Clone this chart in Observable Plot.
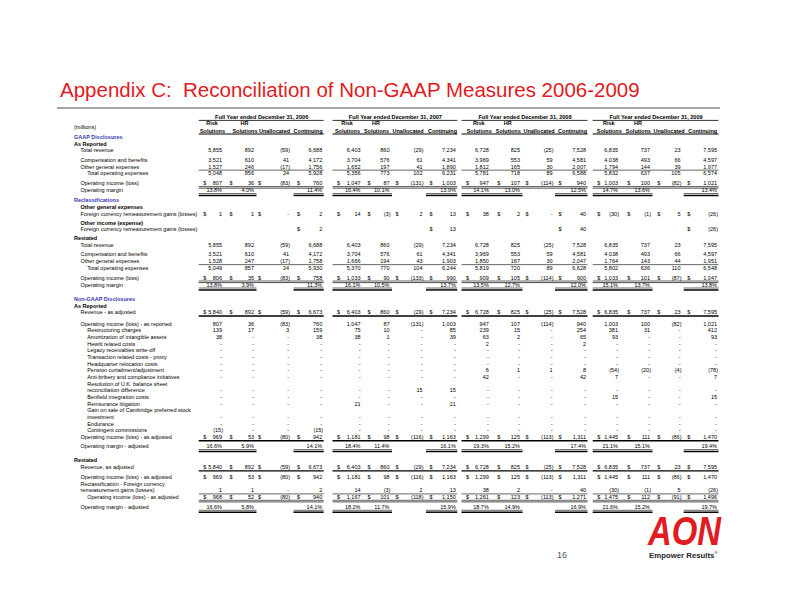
<!DOCTYPE html>
<html><head><meta charset="utf-8">
<script src="https://cdn.jsdelivr.net/npm/d3@7"></script>
<script src="https://cdn.jsdelivr.net/npm/@observablehq/plot@0.6"></script>
<style>
body{margin:0;background:#fff;}
#page{position:relative;width:792px;height:612px;overflow:hidden;font-family:"Liberation Sans",Arial,Helvetica,sans-serif;background:#fff;}
#chart{position:absolute;left:0;top:0;}
#title{position:absolute;left:60px;top:79.5px;font-size:20.5px;line-height:20.5px;color:#E11B22;white-space:nowrap;margin:0;font-weight:normal;}
#rule{position:absolute;left:57px;top:107px;width:663px;height:2px;background:#A6A6A6;}
#pagenum{position:absolute;left:557px;top:550px;font-size:9px;line-height:10px;color:#595959;}
#tag{position:absolute;left:649px;top:551px;font-size:7.8px;line-height:9px;color:#262626;font-weight:bold;white-space:nowrap;}
#tag sup{font-size:4px;vertical-align:top;line-height:4px;}
#logo{position:absolute;left:646px;top:512px;}
</style></head>
<body>
<div id="page">
  <div id="chart"></div>
  <h1 id="title">Appendix C:&nbsp; Reconciliation of Non-GAAP Measures 2006-2009</h1>
  <div id="rule"></div>
  <svg id="logo" width="78" height="36"><text x="2" y="33" font-family="Liberation Sans, Arial, sans-serif" font-weight="bold" font-style="italic" font-size="41" fill="#E11B22" textLength="73" lengthAdjust="spacingAndGlyphs">AON</text></svg>
  <div id="pagenum">16</div>
  <div id="tag">Empower Results<sup>®</sup></div>
</div>
<script>
// ---------------- DATA ----------------
const years = ["2006", "2007", "2008", "2009"];
const columnTop = ["Risk", "HR", "", ""];
const columnBottom = ["Solutions", "Solutions", "Unallocated", "Continuing"];

const rowLabels = [
  "(millions)",
  "GAAP Disclosures",
  "As Reported",
  "Total revenue",
  "Compensation and benefits",
  "Other general expenses",
  "Total operating expenses",
  "Operating income (loss)",
  "Operating margin",
  "Reclassifications",
  "Other general expenses",
  "Foreign currency remeasurement gains (losses)",
  "Other income (expense)",
  "Foreign currency remeasurement gains (losses)",
  "Restated",
  "Total revenue",
  "Compensation and benefits",
  "Other general expenses",
  "Total operating expenses",
  "Operating income (loss)",
  "Operating margin",
  "Non-GAAP Disclosures",
  "As Reported",
  "Revenue - as adjusted",
  "Operating income (loss) - as reported",
  "Restructuring charges",
  "Amortization of intangible assets",
  "Hewitt related costs",
  "Legacy receivables write-off",
  "Transaction related costs - proxy",
  "Headquarter relocation costs",
  "Pension curtailment/adjustment",
  "Anti-bribery and compliance initiatives",
  "Resolution of U.K. balance sheet",
  "reconciliation difference",
  "Benfield integration costs",
  "Reinsurance litigation",
  "Gain on sale of Cambridge preferred stock",
  "investment",
  "Endurance",
  "Contingent commissions",
  "Operating income (loss) - as adjusted",
  "Operating margin - adjusted",
  "Restated",
  "Revenue, as adjusted",
  "Operating income (loss) - as adjusted",
  "Reclassification - Foreign currency",
  "remeasurement gains (losses)",
  "Operating income (loss) - as adjusted",
  "Operating margin - adjusted"
];

// values per year: [Risk Solutions, HR Solutions, Unallocated, Continuing]; 0 shown as "-", null blank
const fy2006 = [
  [5855, 892, -59, 6688], [3521, 610, 41, 4172], [1527, 246, -17, 1756], [5048, 856, 24, 5928],
  [807, 36, -83, 760], [13.8, 4.0, null, 11.4],
  [1, 1, 0, 2], [null, null, null, 2],
  [5855, 892, -59, 6688], [3521, 610, 41, 4172], [1528, 247, -17, 1758], [5049, 857, 24, 5930],
  [806, 35, -83, 758], [13.8, 3.9, null, 11.3],
  [5840, 892, -59, 6673], [807, 36, -83, 760], [139, 17, 3, 159], [38, 0, 0, 38],
  [0, 0, 0, 0], [0, 0, 0, 0], [0, 0, 0, 0], [0, 0, 0, 0], [0, 0, 0, 0], [0, 0, 0, 0],
  [0, 0, 0, 0], [0, 0, 0, 0], [0, 0, 0, 0], [0, 0, 0, 0], [0, 0, 0, 0], [-15, 0, 0, -15],
  [969, 53, -80, 942], [16.6, 5.9, null, 14.1],
  [5840, 892, -59, 6673], [969, 53, -80, 942], [1, 1, 0, 2], [968, 52, -80, 940], [16.6, 5.8, null, 14.1]
];
const fy2007 = [
  [6403, 860, -29, 7234], [3704, 576, 61, 4341], [1652, 197, 41, 1890], [5356, 773, 102, 6231],
  [1047, 87, -131, 1003], [16.4, 10.1, null, 13.9],
  [14, -3, 2, 13], [null, null, null, 13],
  [6403, 860, -29, 7234], [3704, 576, 61, 4341], [1666, 194, 43, 1903], [5370, 770, 104, 6244],
  [1033, 90, -133, 990], [16.1, 10.5, null, 13.7],
  [6403, 860, -29, 7234], [1047, 87, -131, 1003], [75, 10, 0, 85], [38, 1, 0, 39],
  [0, 0, 0, 0], [0, 0, 0, 0], [0, 0, 0, 0], [0, 0, 0, 0], [0, 0, 0, 0], [0, 0, 0, 0],
  [0, 0, 15, 15], [0, 0, 0, 0], [21, 0, 0, 21], [0, 0, 0, 0], [0, 0, 0, 0], [0, 0, 0, 0],
  [1181, 98, -116, 1163], [18.4, 11.4, null, 16.1],
  [6403, 860, -29, 7234], [1181, 98, -116, 1163], [14, -3, 2, 13], [1167, 101, -118, 1150], [18.2, 11.7, null, 15.9]
];
const fy2008 = [
  [6728, 825, -25, 7528], [3969, 553, 59, 4581], [1812, 165, 30, 2007], [5781, 718, 89, 6588],
  [947, 107, -114, 940], [14.1, 13.0, null, 12.5],
  [38, 2, 0, 40], [null, null, null, 40],
  [6728, 825, -25, 7528], [3969, 553, 59, 4581], [1850, 167, 30, 2047], [5819, 720, 89, 6628],
  [909, 105, -114, 900], [13.5, 12.7, null, 12.0],
  [6728, 825, -25, 7528], [947, 107, -114, 940], [239, 15, 0, 254], [63, 2, 0, 65],
  [2, 0, 0, 2], [0, 0, 0, 0], [0, 0, 0, 0], [0, 0, 0, 0], [6, 1, 1, 8], [42, 0, 0, 42],
  [0, 0, 0, 0], [0, 0, 0, 0], [0, 0, 0, 0], [0, 0, 0, 0], [0, 0, 0, 0], [0, 0, 0, 0],
  [1299, 125, -113, 1311], [19.3, 15.2, null, 17.4],
  [6728, 825, -25, 7528], [1299, 125, -113, 1311], [38, 2, 0, 40], [1261, 123, -113, 1271], [18.7, 14.9, null, 16.9]
];
const fy2009 = [
  [6835, 737, 23, 7595], [4038, 493, 66, 4597], [1794, 144, 39, 1977], [5832, 637, 105, 6574],
  [1003, 100, -82, 1021], [14.7, 13.6, null, 13.4],
  [-30, -1, 5, -26], [null, null, null, -26],
  [6835, 737, 23, 7595], [4038, 493, 66, 4597], [1764, 143, 44, 1951], [5802, 636, 110, 6548],
  [1033, 101, -87, 1047], [15.1, 13.7, null, 13.8],
  [6835, 737, 23, 7595], [1003, 100, -82, 1021], [381, 31, 0, 412], [93, 0, 0, 93],
  [0, 0, 0, 0], [0, 0, 0, 0], [0, 0, 0, 0], [0, 0, 0, 0], [-54, -20, -4, -78], [7, 0, 0, 7],
  [0, 0, 0, 0], [15, 0, 0, 15], [0, 0, 0, 0], [0, 0, 0, 0], [0, 0, 0, 0], [0, 0, 0, 0],
  [1445, 111, -86, 1470], [21.1, 15.1, null, 19.4],
  [6835, 737, 23, 7595], [1445, 111, -86, 1470], [-30, -1, 5, -26], [1475, 112, -91, 1496], [21.6, 15.2, null, 19.7]
];
const yearValues = [fy2006, fy2007, fy2008, fy2009];

// ---------------- LAYOUT (positions / styles) ----------------
// [step before row (row units), indent level, kind, value row index, dollar, rule, percent]
const rowSpec = [
  [0, 0, "plain"],
  [0, 0, "section"],
  [1.0, 0, "subhead"],
  [1.0, 1, "plain", 0],
  [1.45, 1, "plain", 1],
  [1.0, 1, "plain", 2, null, "single"],
  [1.0, 2, "plain", 3],
  [1.5, 1, "plain", 4, "all", "double"],
  [1.05, 1, "plain", 5, null, "margin", true],
  [1.45, 0, "section"],
  [1.05, 1, "subhead"],
  [1.05, 1, "plain", 6, "all"],
  [1.3, 1, "subhead"],
  [1.0, 1, "plain", 7, "cont"],
  [1.35, 0, "subhead"],
  [1.0, 1, "plain", 8],
  [1.42, 1, "plain", 9],
  [1.0, 1, "plain", 10, null, "single"],
  [1.0, 2, "plain", 11],
  [1.5, 1, "plain", 12, "all", "double"],
  [1.05, 1, "plain", 13, null, "margin", true],
  [2.15, 0, "section"],
  [1.0, 0, "subhead"],
  [0.95, 1, "plain", 14, "all", "thick"],
  [1.72, 1, "plain", 15],
  [1, 2, "plain", 16], [1, 2, "plain", 17], [1, 2, "plain", 18], [1, 2, "plain", 19],
  [1, 2, "plain", 20], [1, 2, "plain", 21], [1, 2, "plain", 22], [1, 2, "plain", 23],
  [1, 2, "plain"], [1, 2, "plain", 24], [1, 2, "plain", 25], [1, 2, "plain", 26],
  [1, 2, "plain"], [1, 2, "plain", 27], [1, 2, "plain", 28], [1, 2, "plain", 29],
  [1.0, 1, "plain", 30, "all", "thick"],
  [1.42, 1, "plain", 31, null, "margin", true],
  [2.1, 0, "subhead"],
  [1.0, 1, "plain", 32, "all", "thick"],
  [1.5, 1, "plain", 33, "all"],
  [1.0, 1, "plain"],
  [1.0, 1, "plain", 34, null, "single"],
  [1.0, 2, "plain", 35, "all", "double"],
  [1.5, 1, "plain", 36, null, "margin", true]
];
const colRight = [[221.5, 253.5, 288.5, 321.7], [360, 389, 422, 455.3], [488.3, 519.5, 552, 585.5], [617.5, 649.5, 680, 716.5]];
const colDollar = [[202.7, 229, 257.5, 296.5], [336.5, 367, 395, 429], [465.5, 496.7, 525, 558], [596.7, 626.7, 656.7, 686.7]];
const headRight = [[224.5, 257, 289.6, 322.1], [359.5, 388.5, 423.2, 456.5], [491.2, 520.3, 554.1, 586.6], [621.3, 650.4, 684.2, 716.7]];
const indentX = [73.5, 80, 86.7];
const ROW = 6.667, Y0 = 116.3, FS = 5.5;
const U_MILLIONS = 1.6, U_SOLUTIONS = 2.1, U_FIRST = 3.06;
const BLUE = "#3636B4";

// ---------------- BUILD ----------------
const blockStart = colDollar.map(d => d[0] - 4);
const blockEnd = colRight.map(d => d[3] + 2);

let cum = U_FIRST;
const rows = rowSpec.map((s, i) => {
  const [step, indent, kind, vi, dollar, rule, pct] = s;
  let u;
  if (i === 0) u = U_MILLIONS;
  else if (i === 1) u = U_FIRST;
  else { cum += step; u = cum; }
  return {label: rowLabels[i], u, indent, kind, vi, dollar, rule, pct};
});
const maxU = d3.max(rows, r => r.u) + 1;

const fmtNum = d3.format(",");
function fmt(v, pct) {
  if (v == null) return null;
  if (pct) return v.toFixed(1) + "%";
  if (v === 0) return "-";
  return v < 0 ? "(" + fmtNum(-v) + ")" : fmtNum(v);
}

const cells = [], dollars = [], rules = [];
rows.forEach(r => {
  if (r.vi == null) return;
  years.forEach((yr, b) => {
    const vals = yearValues[b][r.vi];
    vals.forEach((v, c) => {
      const t = fmt(v, r.pct);
      if (t == null) return;
      cells.push({x: colRight[b][c] + (v < 0 && !r.pct ? 1 : 0), u: r.u, text: t});
      if (r.dollar === "all" || (r.dollar === "cont" && c === 3)) dollars.push({x: colDollar[b][c], u: r.u});
    });
    if (r.rule === "margin") {
      for (const [a, z] of [[blockStart[b], colRight[b][1] + 3], [colDollar[b][3] - 3, blockEnd[b]]]) {
        rules.push({x1: a, x2: z, u: r.u, type: "thin"});
        rules.push({x1: a, x2: z, u: r.u, type: "thickLow"});
      }
    } else if (r.rule === "double") {
      rules.push({x1: blockStart[b], x2: blockEnd[b], u: r.u, type: "thin"});
      rules.push({x1: blockStart[b], x2: blockEnd[b], u: r.u, type: "doubleLow"});
    } else if (r.rule) {
      rules.push({x1: blockStart[b], x2: blockEnd[b], u: r.u, type: r.rule});
    }
  });
});

const headerYears = years.map((y, b) => ({x: (blockStart[b] + blockEnd[b]) / 2, text: `Full Year ended December 31, ${y}`, x1: blockStart[b], x2: blockEnd[b]}));
const headerTop = [], headerBottom = [];
years.forEach((y, b) => {
  columnTop.forEach((t, c) => { if (t) headerTop.push({x: headRight[b][c] - 13, text: t}); });
  columnBottom.forEach((t, c) => headerBottom.push({x: headRight[b][c], text: t}));
});

const byType = t => rules.filter(d => d.type === t);
const ruleOpt = {x1: "x1", x2: "x2", y: "u", stroke: "#000"};

const plot = Plot.plot({
  width: 792, height: 612, margin: 0,
  x: {domain: [0, 792], axis: null},
  y: {domain: [0, maxU], range: [Y0, Y0 + maxU * ROW], axis: null},
  style: {fontFamily: "Liberation Sans, Arial, Helvetica, sans-serif", background: "transparent"},
  marks: [
    // column header
    Plot.text(headerYears, {x: "x", y: () => 0, text: "text", fontWeight: "bold", fontSize: FS + 0.1, fill: "#000"}),
    Plot.ruleY(headerYears, {x1: "x1", x2: "x2", y: () => 0, dy: 3.6, strokeWidth: 0.8, stroke: "#000"}),
    Plot.text(headerTop, {x: "x", y: () => 1, text: "text", fontWeight: "bold", fontSize: FS, fill: "#000"}),
    Plot.text(headerBottom, {x: "x", y: () => U_SOLUTIONS, text: "text", textAnchor: "end", fontWeight: "bold", fontSize: FS, fill: "#000"}),
    Plot.ruleY(headerYears, {x1: "x1", x2: "x2", y: () => U_SOLUTIONS, dy: 3.2, strokeWidth: 1, stroke: "#000"}),
    // row labels
    Plot.text(rows.filter(r => r.kind === "plain"), {x: r => indentX[r.indent], y: "u", text: "label", textAnchor: "start", fontSize: FS, fill: "#000"}),
    Plot.text(rows.filter(r => r.kind === "section"), {x: r => indentX[r.indent], y: "u", text: "label", textAnchor: "start", fontSize: FS, fontWeight: "bold", fill: BLUE}),
    Plot.text(rows.filter(r => r.kind === "subhead"), {x: r => indentX[r.indent], y: "u", text: "label", textAnchor: "start", fontSize: FS, fontWeight: "bold", fill: "#000", ariaLabel: "subhead"}),
    // values
    Plot.text(cells, {x: "x", y: "u", text: "text", textAnchor: "end", fontSize: FS, fill: "#000"}),
    Plot.text(dollars, {x: "x", y: "u", text: () => "$", textAnchor: "start", fontSize: FS, fill: "#000"}),
    // rules
    Plot.ruleY(byType("single"), {...ruleOpt, dy: 3.3, strokeWidth: 0.6}),
    Plot.ruleY(byType("thick"), {...ruleOpt, dy: 3.6, strokeWidth: 1.4}),
    Plot.ruleY(byType("thin"), {...ruleOpt, dy: 3.0, strokeWidth: 0.6}),
    Plot.ruleY(byType("thickLow"), {...ruleOpt, dy: 4.9, strokeWidth: 1.5}),
    Plot.ruleY(byType("doubleLow"), {...ruleOpt, dy: 4.6, strokeWidth: 0.7})
  ]
});
d3.select(plot).selectAll('g[aria-label="subhead"] text').attr("text-decoration", "underline");
document.getElementById("chart").appendChild(plot);
</script>
</body></html>
